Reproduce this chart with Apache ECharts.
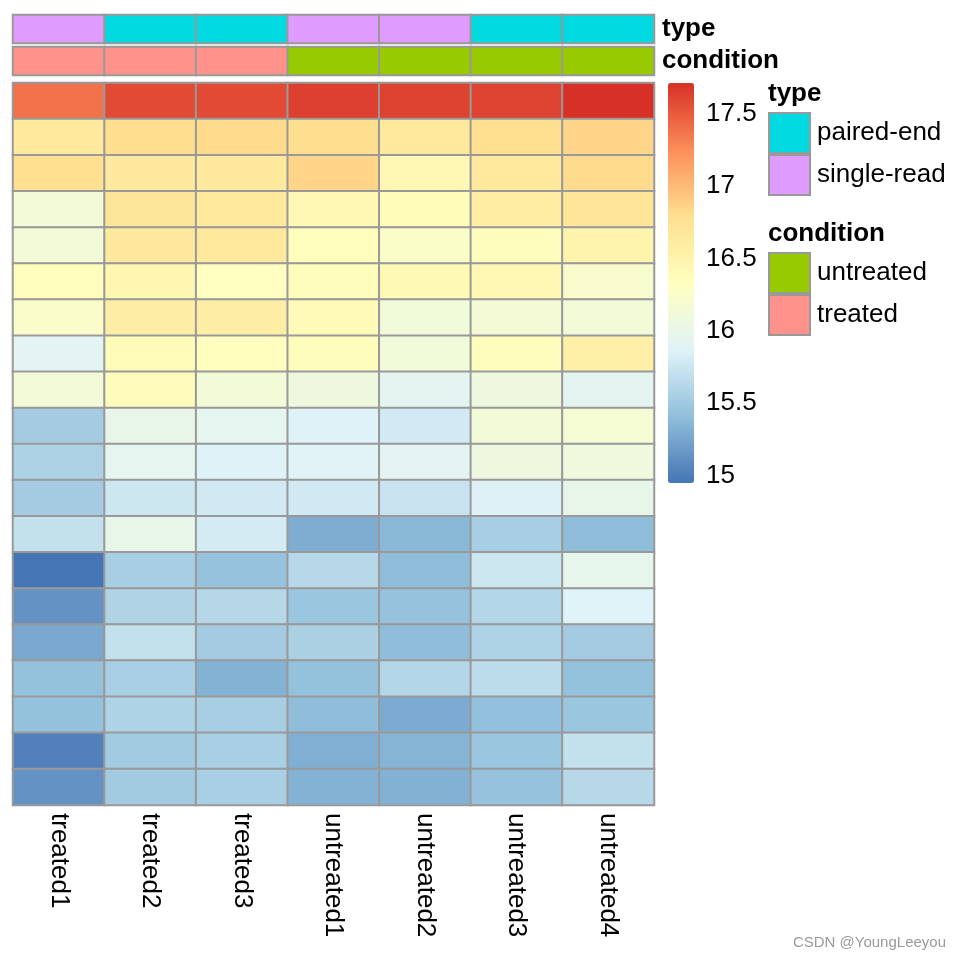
<!DOCTYPE html>
<html>
<head>
<meta charset="utf-8">
<script src="https://cdn.jsdelivr.net/npm/echarts@6/dist/echarts.min.js"></script>
<style>html,body{margin:0;padding:0;background:#fff}#c{width:960px;height:960px}</style>
</head>
<body>
<div id="c"></div>
<script>
const columns = ['treated1','treated2','treated3','untreated1','untreated2','untreated3','untreated4'];
const typeAnno = ['single-read','paired-end','paired-end','single-read','single-read','paired-end','paired-end'];
const conditionAnno = ['treated','treated','treated','untreated','untreated','untreated','untreated'];
const typeColors = {'paired-end':'#00DAE0','single-read':'#E09BFF'};
const conditionColors = {'untreated':'#97CB00','treated':'#FF928A'};
const colorTicks = [15, 15.5, 16, 16.5, 17, 17.5];
const valueMin = 14.95, valueMax = 17.71;
const rowNames = ['r1','r2','r3','r4','r5','r6','r7','r8','r9','r10','r11','r12','r13','r14','r15','r16','r17','r18','r19','r20'];
const matrix = [
  [17.38,17.58,17.58,17.63,17.62,17.61,17.71],
  [16.66,16.80,16.82,16.80,16.66,16.79,16.85],
  [16.79,16.65,16.65,16.85,16.45,16.66,16.82],
  [16.14,16.70,16.66,16.43,16.38,16.60,16.71],
  [16.14,16.65,16.67,16.35,16.26,16.36,16.50],
  [16.35,16.47,16.32,16.36,16.42,16.44,16.22],
  [16.25,16.58,16.58,16.40,16.12,16.15,16.14],
  [15.92,16.38,16.34,16.36,16.12,16.36,16.57],
  [16.14,16.37,16.14,16.08,15.93,16.07,15.93],
  [15.52,15.99,15.94,15.86,15.79,16.14,16.18],
  [15.57,15.94,15.86,15.88,15.92,16.07,16.09],
  [15.52,15.76,15.78,15.78,15.73,15.85,15.99],
  [15.70,15.99,15.80,15.30,15.37,15.54,15.40],
  [14.95,15.54,15.44,15.63,15.40,15.76,15.98],
  [15.13,15.59,15.62,15.47,15.44,15.61,15.87],
  [15.27,15.70,15.52,15.56,15.40,15.58,15.52],
  [15.43,15.55,15.33,15.43,15.61,15.66,15.43],
  [15.43,15.58,15.54,15.40,15.28,15.42,15.47],
  [15.02,15.51,15.55,15.31,15.34,15.47,15.70],
  [15.13,15.51,15.55,15.33,15.32,15.44,15.63]
];
const palette = ['#4575B4','#91BFDB','#E0F3F8','#FFFFBF','#FEE090','#FC8D59','#D73027'];

const FONT = 'Liberation Sans';
const FS = 26;
const heatData = [];
matrix.forEach((row, r) => row.forEach((v, c) => heatData.push([c, r, v])));
const typeData = typeAnno.map((t, i) => ({value: [i, 0, 1], name: t, itemStyle: {color: typeColors[t]}}));
const condData = conditionAnno.map((t, i) => ({value: [i, 0, 1], name: t, itemStyle: {color: conditionColors[t]}}));

const cellStyle = {borderColor: '#999999', borderWidth: 2};
const hiddenX = (gi) => ({type: 'category', gridIndex: gi, data: columns, axisLine: {show: false}, axisTick: {show: false}, axisLabel: {show: false}, splitLine: {show: false}});

const legendSeries = [];
Object.keys(typeColors).forEach(k => legendSeries.push({name: k, type: 'bar', xAxisIndex: 1, yAxisIndex: 1, data: [], itemStyle: {color: typeColors[k]}}));
Object.keys(conditionColors).forEach(k => legendSeries.push({name: k, type: 'bar', xAxisIndex: 1, yAxisIndex: 1, data: [], itemStyle: {color: conditionColors[k]}}));

const chart = echarts.init(document.getElementById('c'), null, {renderer: 'canvas'});
chart.setOption({
  animation: false,
  textStyle: {fontFamily: FONT},
  title: [
    {text: 'type', left: 768, top: 81, padding: 0, textStyle: {fontFamily: FONT, fontSize: FS, fontWeight: 'bold', color: '#000'}},
    {text: 'condition', left: 768, top: 221, padding: 0, textStyle: {fontFamily: FONT, fontSize: FS, fontWeight: 'bold', color: '#000'}}
  ],
  legend: [
    {data: Object.keys(typeColors), orient: 'vertical', left: 768, top: 112, padding: 0, itemGap: 0, itemWidth: 41, itemHeight: 40, icon: 'rect',
     itemStyle: {borderColor: '#999999', borderWidth: 2}, textStyle: {fontFamily: FONT, fontSize: FS, color: '#000', padding: [0,0,0,2]}, selectedMode: false},
    {data: Object.keys(conditionColors), orient: 'vertical', left: 768, top: 252, padding: 0, itemGap: 0, itemWidth: 41, itemHeight: 40, icon: 'rect',
     itemStyle: {borderColor: '#999999', borderWidth: 2}, textStyle: {fontFamily: FONT, fontSize: FS, color: '#000', padding: [0,0,0,2]}, selectedMode: false}
  ],
  grid: [
    {left: 13, width: 641, top: 83, height: 722},
    {left: 13, width: 641, top: 15, height: 28},
    {left: 13, width: 641, top: 47, height: 28},
    {left: 668, width: 26, top: 83, height: 400}
  ],
  xAxis: [
    {type: 'category', gridIndex: 0, data: columns, position: 'bottom', axisLine: {show: false}, axisTick: {show: false}, splitLine: {show: false},
     axisLabel: {rotate: -90, margin: 8, fontFamily: FONT, fontSize: FS, color: '#000'}},
    hiddenX(1), hiddenX(2),
    {type: 'value', gridIndex: 3, show: false}
  ],
  yAxis: [
    {type: 'category', gridIndex: 0, data: rowNames, inverse: true, show: false},
    {type: 'category', gridIndex: 1, data: ['type'], position: 'right', axisLine: {show: false}, axisTick: {show: false},
     axisLabel: {margin: 8, fontFamily: FONT, fontSize: FS, fontWeight: 'bold', color: '#000'}},
    {type: 'category', gridIndex: 2, data: ['condition'], position: 'right', axisLine: {show: false}, axisTick: {show: false},
     axisLabel: {margin: 8, fontFamily: FONT, fontSize: FS, fontWeight: 'bold', color: '#000'}},
    {type: 'value', gridIndex: 3, min: valueMin, max: valueMax, position: 'right', axisLine: {show: false}, splitLine: {show: false},
     axisTick: {show: false},
     axisLabel: {customValues: colorTicks, margin: 12, fontFamily: FONT, fontSize: FS, color: '#000', showMinLabel: true, showMaxLabel: true}}
  ],
  visualMap: {
    type: 'continuous', seriesIndex: 0, min: valueMin, max: valueMax, calculable: false, realtime: false,
    orient: 'vertical', left: 668, top: 83, itemWidth: 26, itemHeight: 400, padding: 0, text: null, showLabel: false,
    inRange: {color: palette}, textStyle: {color: 'transparent'}, hoverLink: false
  },
  series: [
    {type: 'heatmap', xAxisIndex: 0, yAxisIndex: 0, data: heatData, itemStyle: cellStyle, emphasis: {disabled: true}},
    {type: 'heatmap', xAxisIndex: 1, yAxisIndex: 1, data: typeData, itemStyle: cellStyle, emphasis: {disabled: true}},
    {type: 'heatmap', xAxisIndex: 2, yAxisIndex: 2, data: condData, itemStyle: cellStyle, emphasis: {disabled: true}}
  ].concat(legendSeries),
  graphic: [
    {type: 'text', right: 14, bottom: 10, style: {text: 'CSDN @YoungLeeyou', fill: '#9a9a9a', fontSize: 15, fontFamily: FONT}}
  ]
});
</script>
</body>
</html>
